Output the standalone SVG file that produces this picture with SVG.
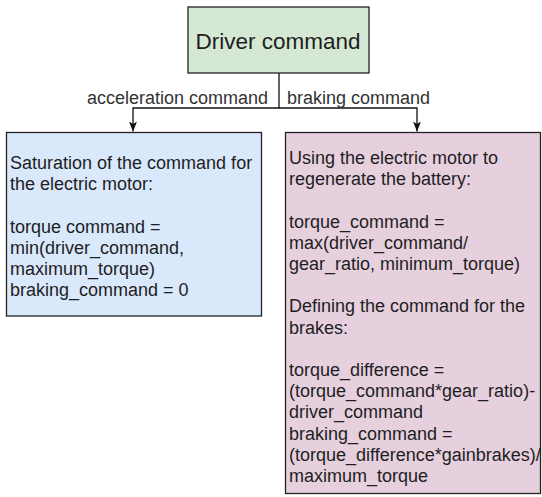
<svg xmlns="http://www.w3.org/2000/svg" width="542" height="497" viewBox="0 0 542 497">
<style>
.box{stroke:#222;stroke-width:1.3}
.t{font-family:"Liberation Sans",Arial,sans-serif;font-size:18px;fill:#1e1e1e}
.lbl{font-family:"Liberation Sans",Arial,sans-serif;font-size:18px;fill:#333}
.edge{fill:none;stroke:#111;stroke-width:1.3}
</style>
<defs>
<marker id="arr" viewBox="0 0 10 10" refX="10" refY="5" markerWidth="10" markerHeight="10" markerUnits="userSpaceOnUse" orient="auto">
<path d="M0,1 L10,5 L0,9 L2.5,5 Z" fill="#111"/>
</marker>
</defs>
<rect width="542" height="497" fill="#fff"/>
<g id="connectors">
<path class="edge" d="M279,73 V108 H133 V131.5" marker-end="url(#arr)"/>
<path class="edge" d="M279,108 H417 V131.5" marker-end="url(#arr)"/>
<text class="lbl" x="268" y="104" text-anchor="end">acceleration command</text>
<text class="lbl" x="287" y="104">braking command</text>
</g>
<g id="driver">
<rect class="box" x="188" y="7" width="181" height="66" fill="#d5e8d4"/>
<text class="t" x="278" y="49" text-anchor="middle" style="font-size:22.5px">Driver command</text>
</g>
<g id="accel">
<rect class="box" x="6.5" y="132.5" width="255" height="183.5" fill="#dae8fc"/>
<text class="t" x="10" y="169">
<tspan x="10" y="169">Saturation of the command for</tspan>
<tspan x="10" y="190.2">the electric motor:</tspan>
<tspan x="10" y="232.6">torque command =</tspan>
<tspan x="10" y="253.8">min(driver_command,</tspan>
<tspan x="10" y="275">maximum_torque)</tspan>
<tspan x="10" y="296.2">braking_command = 0</tspan>
</text>
</g>
<g id="brake">
<rect class="box" x="285.5" y="132.5" width="255" height="361" fill="#e6d0de"/>
<text class="t" x="289" y="164">
<tspan x="289" y="164">Using the electric motor to</tspan>
<tspan x="289" y="185.2">regenerate the battery:</tspan>
<tspan x="289" y="227.6">torque_command =</tspan>
<tspan x="289" y="248.8">max(driver_command/</tspan>
<tspan x="289" y="270">gear_ratio, minimum_torque)</tspan>
<tspan x="289" y="312.4">Defining the command for the</tspan>
<tspan x="289" y="333.6">brakes:</tspan>
<tspan x="289" y="376">torque_difference =</tspan>
<tspan x="289" y="397.2">(torque_command*gear_ratio)-</tspan>
<tspan x="289" y="418.4">driver_command</tspan>
<tspan x="289" y="439.6">braking_command =</tspan>
<tspan x="289" y="460.8">(torque_difference*gainbrakes)/</tspan>
<tspan x="289" y="482">maximum_torque</tspan>
</text>
</g>
</svg>
